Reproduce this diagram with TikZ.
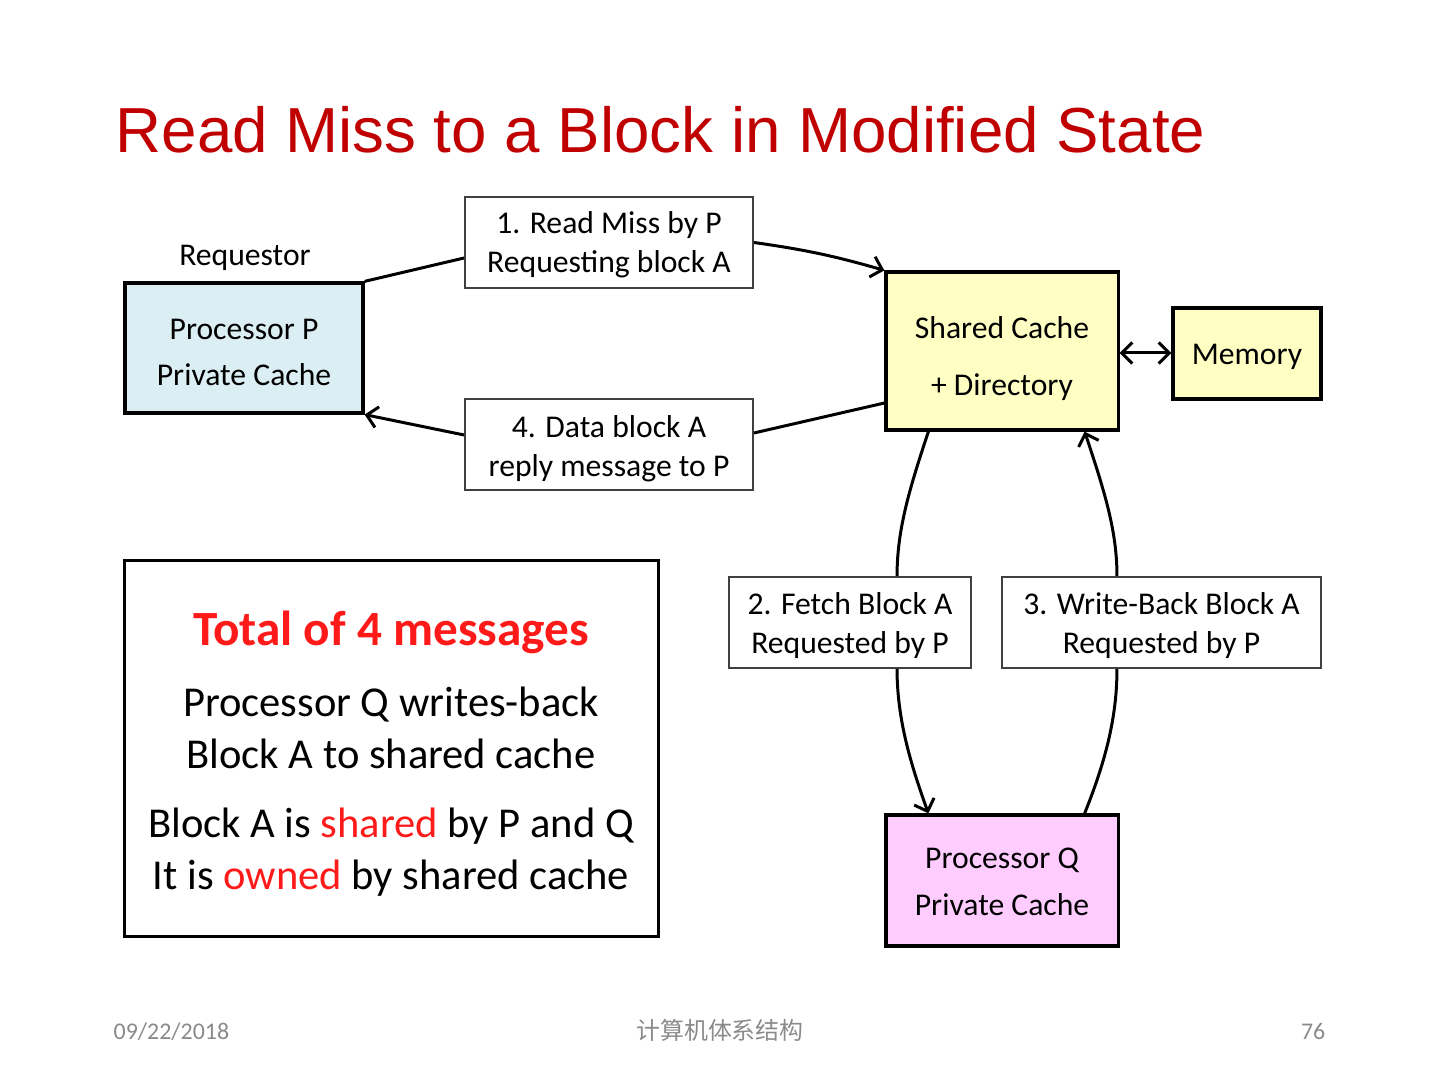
\documentclass[tikz,border=0pt]{standalone}
\usepackage{fontspec}
\setmainfont{Carlito}
\newfontfamily\titlefont{Liberation Sans}
\newfontfamily\cjkfont{Noto Sans CJK SC}
\usetikzlibrary{arrows.meta}
\definecolor{titlered}{HTML}{C00000}
\definecolor{hlred}{HTML}{FF1A1A}
\definecolor{pblue}{HTML}{DAEEF3}
\definecolor{scyellow}{HTML}{FFFFC4}
\definecolor{qpink}{HTML}{FFCCFF}
\definecolor{footgray}{HTML}{8A8A8A}
\newcommand{\topstrut}[1]{\rule{0pt}{#1}}
\tikzset{
  box/.style={draw, line width=0.9pt, inner sep=0pt, align=center, font=\fontsize{9}{13.1}\selectfont},
  msg/.style={draw=black!75, line width=0.5pt, fill=white, inner sep=0pt, align=center,
    minimum height=0.91cm, font=\fontsize{9}{11.1}\selectfont},
  conn/.style={line width=0.85pt},
  arr/.style={conn, -{Straight Barb[length=3pt,width=6pt]}},
  darr/.style={conn, {Straight Barb[length=3pt,width=6pt]}-{Straight Barb[length=3pt,width=6pt]}},
  bigtext/.style={anchor=base, inner sep=0pt, font=\fontsize{12.1}{14.8}\selectfont},
  foot/.style={inner sep=0pt, text=footgray, font=\fontsize{6.8}{8}\selectfont}
}
\begin{document}
\begin{tikzpicture}[x=0.01cm, y=-0.01cm]
\useasboundingbox (0,0) rectangle (1440,1080);

% title
\node[anchor=base west, inner sep=0pt, text=titlered, font=\titlefont\fontsize{18.1}{20}\selectfont] (title) at (115,153) {Read Miss to a Block in Modified State};

% nodes
\node[font=\fontsize{9}{11}\selectfont, inner sep=0pt] (req) at (245,258) {Requestor};
\node[box, fill=pblue, minimum width=2.38cm, minimum height=1.30cm] (P) at (244,348) {\topstrut{8.1pt}Processor P\\Private Cache};
\node[msg, minimum width=2.88cm] (m1) at (609,242.5) {\topstrut{7.5pt}1. Read Miss by P\\Requesting block A};
\node[msg, minimum width=2.88cm] (m4) at (609,444.5) {\topstrut{8.7pt}4. Data block A\\reply message to P};
\node[box, fill=scyellow, minimum width=2.32cm, minimum height=1.58cm, font=\fontsize{9}{16.2}\selectfont] (sc) at (1002,351) {\topstrut{10.4pt}Shared Cache\\+ Directory};
\node[box, fill=scyellow, minimum width=1.48cm, minimum height=0.91cm] (mem) at (1247,353.5) {\topstrut{7.5pt}Memory};
\node[msg, minimum width=2.42cm] (m2) at (850,622.5) {\topstrut{8pt}2. Fetch Block A\\Requested by P};
\node[msg, minimum width=3.19cm] (m3) at (1161.5,622.5) {\topstrut{8.1pt}3. Write-Back Block A\\Requested by P};
\node[box, fill=qpink, minimum width=2.32cm, minimum height=1.31cm, font=\fontsize{9}{13.4}\selectfont] (Q) at (1002,880.5) {\topstrut{6.4pt}Processor Q\\Private Cache};

% summary box
\node[draw, line width=0.9pt, minimum width=5.33cm, minimum height=3.75cm, inner sep=0pt] (big) at (391.5,748.5) {};
\node[anchor=base, inner sep=0pt, text=hlred, font=\bfseries\fontsize{14}{16}\selectfont] (t1) at (391,646) {Total of 4 messages};
\node[bigtext] (t2) at (391,716) {Processor Q writes-back};
\node[bigtext] (t3) at (391,768) {Block A to shared cache};
\node[bigtext] (t4) at (391,837) {Block A is \textcolor{hlred}{shared} by P and Q};
\node[bigtext] (t5) at (391,889) {It is \textcolor{hlred}{owned} by shared cache};

% connectors
\draw[conn] (P.north east) -- ([yshift=-0.155cm]m1.west);
\draw[arr] (m1.east) to[bend left=4] (sc.north west);
\draw[conn] ([yshift=-0.52cm]sc.west) -- ([yshift=0.115cm]m4.east);
\draw[arr] ([yshift=0.095cm]m4.west) -- (P.south east);
\draw[darr] ([yshift=-0.02cm]sc.east) -- ([yshift=-0.02cm]sc.east -| mem.west);

\draw[conn] ([xshift=0.44cm]sc.south west) .. controls +(-20,60) and +(0,-45) .. ([xshift=0.47cm]m2.north);
\draw[arr] ([xshift=0.47cm]m2.south) .. controls +(0,50) and +(-18,-50) .. ([xshift=0.44cm]Q.north west);
\draw[conn] ([xshift=-0.35cm]Q.north east) .. controls +(20,-50) and +(0,50) .. ([xshift=-0.445cm]m3.south);
\draw[arr] ([xshift=-0.445cm]m3.north) .. controls +(0,-45) and +(20,60) .. ([xshift=-0.35cm]sc.south east);

% footer
\node[foot, anchor=base west] (date) at (113,1039) {09/22/2018};
\node[foot, anchor=base, font=\cjkfont\fontsize{6.8}{8}\selectfont] (course) at (720,1039) {计算机体系结构};
\node[foot, anchor=base east] (page) at (1326,1039) {76};
\end{tikzpicture}
\end{document}
